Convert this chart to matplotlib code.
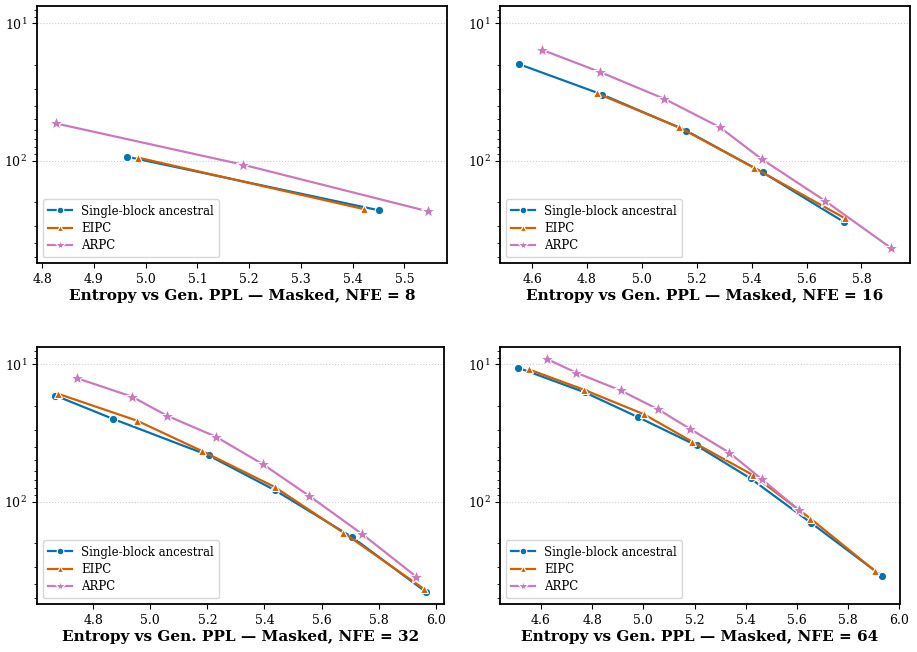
import numpy as np
import matplotlib.pyplot as plt

plt.rcParams['font.family'] = 'DejaVu Serif'

nfe_list = [8, 16, 32, 64]

# entropy (x) and generative perplexity (y) per method, per NFE
sb_ent = {
    8: [4.964, 5.451],
    16: [4.551, 4.855, 5.161, 5.440, 5.737],
    32: [4.668, 4.868, 5.204, 5.437, 5.706, 5.964],
    64: [4.511, 4.771, 4.978, 5.208, 5.419, 5.657, 5.932],
}
sb_ppl = {
    8: [93.6, 230],
    16: [19.8, 33.0, 60.4, 121.6, 280],
    32: [16.9, 24.9, 46.0, 82.6, 180.7, 452],
    64: [10.6, 16.0, 24.2, 39.0, 67.8, 143.5, 347],
}
eipc_ent = {
    8: [4.985, 5.421],
    16: [4.837, 5.135, 5.410, 5.739],
    32: [4.677, 4.953, 5.181, 5.436, 5.676, 5.957],
    64: [4.553, 4.767, 5.002, 5.191, 5.428, 5.653, 5.906],
}
eipc_ppl = {
    8: [95, 225],
    16: [32.4, 57.1, 113, 262],
    32: [16.4, 25.7, 42.8, 78.2, 168, 430],
    64: [10.9, 15.3, 23.1, 36.6, 64.0, 132.8, 320],
}
arpc_ent = {
    8: [4.826, 5.188, 5.546],
    16: [4.636, 4.849, 5.082, 5.284, 5.436, 5.669, 5.909],
    32: [4.742, 4.936, 5.059, 5.229, 5.395, 5.555, 5.742, 5.932],
    64: [4.623, 4.737, 4.911, 5.058, 5.182, 5.335, 5.464, 5.609],
}
arpc_ppl = {
    8: [53.5, 107, 234],
    16: [15.6, 22.7, 35.5, 57.1, 97.2, 197, 434],
    32: [12.6, 17.2, 23.7, 33.6, 53.5, 90.3, 172, 352],
    64: [9.15, 11.5, 15.5, 21.3, 29.5, 43.9, 68.9, 115.6],
}

methods = [
    ('Single-block ancestral', sb_ent, sb_ppl, '#0173b2', 'o', 6),
    ('EIPC', eipc_ent, eipc_ppl, '#d55e00', '^', 6),
    ('ARPC', arpc_ent, arpc_ppl, '#cc78bc', '*', 10),
]

fig = plt.figure(figsize=(9.17, 6.52), dpi=100)
boxes = [
    [0.0403, 0.5966, 0.4471, 0.394],
    [0.5453, 0.5966, 0.4470, 0.394],
    [0.0403, 0.0736, 0.4439, 0.394],
    [0.5453, 0.0736, 0.4362, 0.394],
]

for nfe, box in zip(nfe_list, boxes):
    ax = fig.add_axes(box)
    for name, ent, ppl, col, mk, ms in methods:
        ax.plot(ent[nfe], ppl[nfe], color=col, marker=mk, markersize=ms,
                markeredgecolor='white', markeredgewidth=0.8,
                linewidth=1.6, label=name)
    ax.set_yscale('log')
    ax.set_ylim(556, 7.5)
    ax.grid(True, axis='y', which='major', linestyle=':', color='#cccccc', linewidth=0.8)
    for sp in ax.spines.values():
        sp.set_linewidth(1.3)
    ax.tick_params(labelsize=9)
    ax.set_xlabel(f'Entropy vs Gen. PPL — Masked, NFE = {nfe}',
                  fontsize=11, fontweight='bold', labelpad=2)
    ax.legend(loc='lower left', fontsize=8.5, markerscale=0.8,
              labelspacing=0.35, borderpad=0.45)

fig.savefig('out.png', dpi=100)
